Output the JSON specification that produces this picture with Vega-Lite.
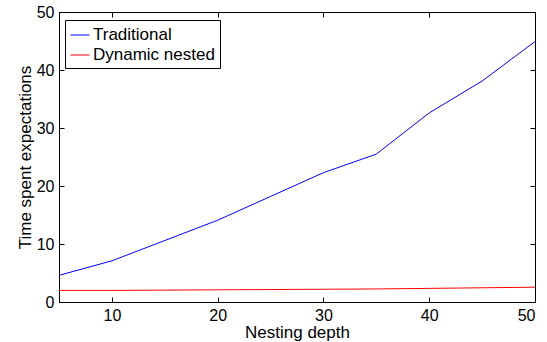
{
  "$schema": "https://vega.github.io/schema/vega-lite/v6.json",
  "width": 476,
  "height": 290,
  "autosize": {"type": "none"},
  "padding": {"left": 59, "top": 12, "right": 12, "bottom": 40},
  "background": "white",
  "config": {
    "view": {"stroke": "black", "strokeWidth": 1},
    "font": "Liberation Sans",
    "axis": {
      "grid": false,
      "domainColor": "black",
      "tickColor": "black",
      "labelColor": "black",
      "titleColor": "black",
      "labelFontSize": 16,
      "titleFontSize": 17,
      "titleFontWeight": "normal",
      "labelFont": "Liberation Sans",
      "titleFont": "Liberation Sans",
      "tickSize": -5,
      "labelPadding": 10
    }
  },
  "data": {
    "values": [
      {"depth": 5, "time": 4.6, "method": "Traditional"},
      {"depth": 10, "time": 7.1, "method": "Traditional"},
      {"depth": 15, "time": 10.6, "method": "Traditional"},
      {"depth": 20, "time": 14.1, "method": "Traditional"},
      {"depth": 25, "time": 18.2, "method": "Traditional"},
      {"depth": 30, "time": 22.3, "method": "Traditional"},
      {"depth": 35, "time": 25.5, "method": "Traditional"},
      {"depth": 40, "time": 32.6, "method": "Traditional"},
      {"depth": 45, "time": 38.1, "method": "Traditional"},
      {"depth": 50, "time": 44.9, "method": "Traditional"},
      {"depth": 5, "time": 2.0, "method": "Dynamic nested"},
      {"depth": 10, "time": 2.0, "method": "Dynamic nested"},
      {"depth": 15, "time": 2.05, "method": "Dynamic nested"},
      {"depth": 20, "time": 2.1, "method": "Dynamic nested"},
      {"depth": 25, "time": 2.15, "method": "Dynamic nested"},
      {"depth": 30, "time": 2.2, "method": "Dynamic nested"},
      {"depth": 35, "time": 2.25, "method": "Dynamic nested"},
      {"depth": 40, "time": 2.35, "method": "Dynamic nested"},
      {"depth": 45, "time": 2.45, "method": "Dynamic nested"},
      {"depth": 50, "time": 2.55, "method": "Dynamic nested"}
    ]
  },
  "layer": [
    {
      "mark": {"type": "line", "strokeWidth": 1},
      "encoding": {
        "x": {"field": "depth", "type": "quantitative", "scale": {"domain": [5, 50], "nice": false},
              "axis": {"values": [10, 20, 30, 40, 50], "title": "Nesting depth", "titlePadding": 1}},
        "y": {"field": "time", "type": "quantitative", "scale": {"domain": [0, 50], "nice": false},
              "axis": {"values": [0, 10, 20, 30, 40, 50], "title": "Time spent expectations", "titlePadding": 2}},
        "color": {"field": "method", "type": "nominal",
                  "scale": {"domain": ["Traditional", "Dynamic nested"], "range": ["#0000ff", "#ff0000"]},
                  "legend": {"orient": "none", "legendX": 6, "legendY": 8, "title": null,
                             "strokeColor": "black", "fillColor": "white", "padding": 5,
                             "symbolType": "stroke", "symbolSize": 361, "symbolStrokeWidth": 1,
                             "labelFontSize": 17, "labelFont": "Liberation Sans", "labelColor": "black",
                             "labelOffset": 3, "rowPadding": 2}}
      }
    },
    {
      "mark": {"type": "line", "opacity": 0},
      "encoding": {
        "x": {"field": "depth", "type": "quantitative",
              "axis": {"orient": "top", "values": [10, 20, 30, 40, 50], "labels": false, "title": null}},
        "y": {"field": "time", "type": "quantitative",
              "axis": {"orient": "right", "values": [0, 10, 20, 30, 40, 50], "labels": false, "title": null}},
        "detail": {"field": "method", "type": "nominal"}
      }
    }
  ],
  "resolve": {"axis": {"x": "independent", "y": "independent"}}
}
